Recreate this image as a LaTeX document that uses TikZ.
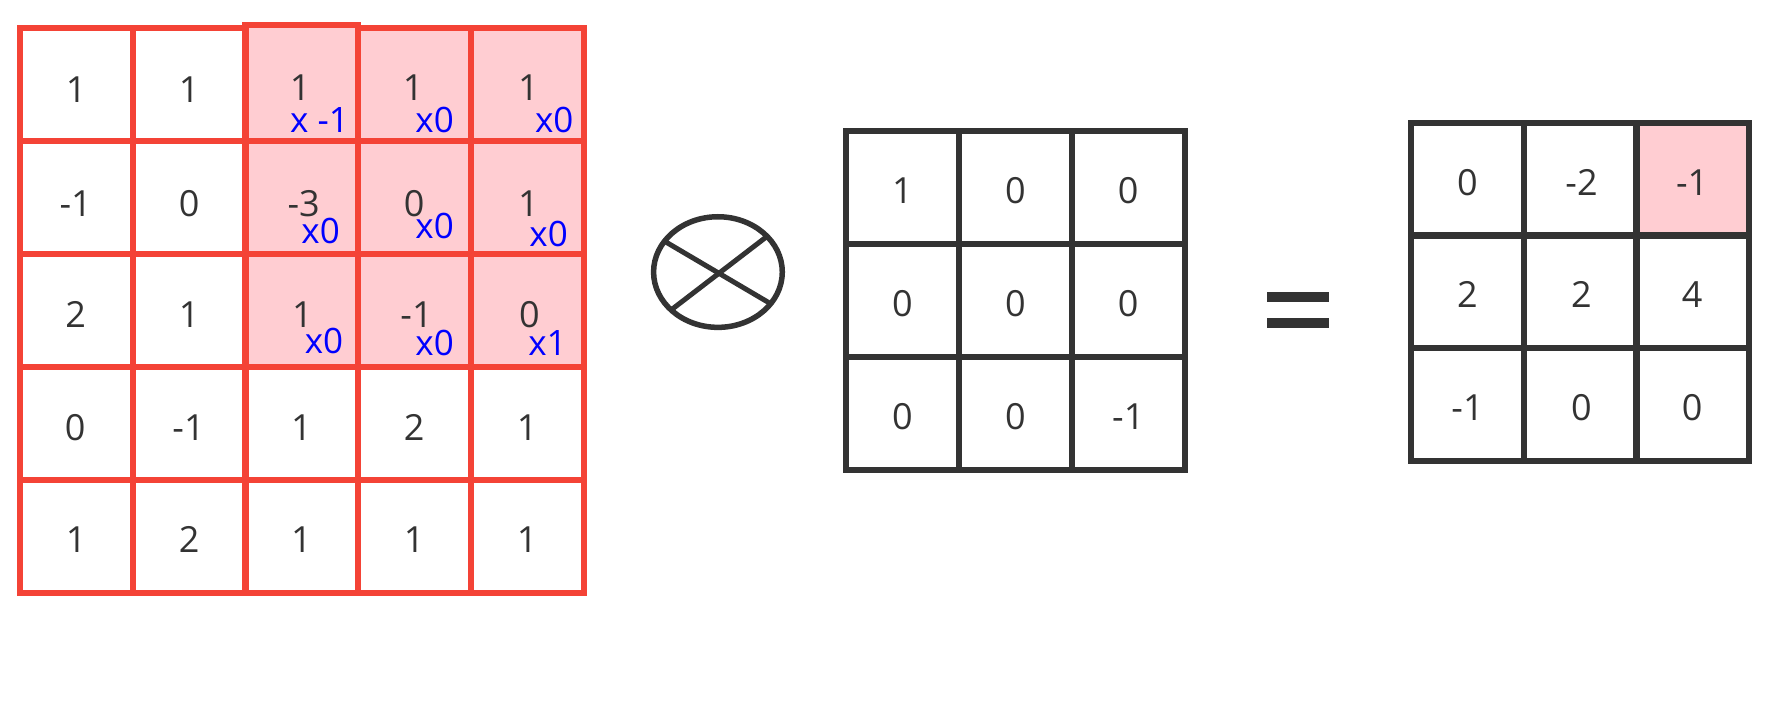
\documentclass[tikz,border=0pt]{standalone}
\usepackage{fontspec}
\setmainfont{Open Sans}
\usetikzlibrary{shapes.geometric}
\definecolor{gridred}{HTML}{F44336}
\definecolor{pinkfill}{HTML}{FFCDD2}
\definecolor{dark}{HTML}{333333}
\definecolor{mulblue}{HTML}{0000FF}
\pgfdeclarelayer{bg}
\pgfsetlayers{bg,main}
\tikzset{
  cell/.style={draw=gridred, line width=6pt, minimum width=112.9pt, minimum height=112.9pt, inner sep=0pt, outer sep=0pt},
  kcell/.style={cell, draw=dark},
  num/.style={text=dark, inner sep=0pt, font=\fontsize{36}{40}\selectfont},
  mul/.style={text=mulblue, inner sep=0pt, font=\fontsize{35}{40}\selectfont},
  opsym/.style={draw=dark, line width=5.5pt, ellipse, minimum width=128.7pt, minimum height=110.6pt, inner sep=0pt, outer sep=0pt},
  cross/.style={draw=dark, line width=5pt},
  bar/.style={fill=dark}
}
\begin{document}
\begin{tikzpicture}[x=1.1288pt, y=-1.1288pt]
\useasboundingbox (0,0) rectangle (1568,640);
% input 5x5 grid
\foreach \n/\x/\y/\t in {
  a11/67.5/75/1, a12/167.5/75/1, a14/367/75/1, a15/467/75/1,
  a21/67.5/175/-1, a22/167.5/175/0, a23/267/175/-3, a24/367/175/0, a25/467/175/1,
  a31/67.5/275/2, a32/167.5/275/1, a33/267/275/1, a34/367/275/-1, a35/467/275/0,
  a41/67.5/375/0, a42/167.5/375/-1, a43/267/375/1, a44/367/375/2, a45/467/375/1,
  a51/67.5/475/1, a52/167.5/475/2, a53/267/475/1, a54/367/475/1, a55/467/475/1}
{
  \node[cell] (\n) at (\x,\y) {};
}
\node[cell, minimum height=116.3pt] (a13) at (267,73.5) {};
\begin{pgfonlayer}{bg}
  \fill[pinkfill] (a13.north west) rectangle (a35.south east);
\end{pgfonlayer}
% numbers in input grid
\foreach \n/\x/\y/\t in {
  a11/67.5/79/1, a12/167.5/79/1, a13/266/78/1, a14/366/78/1, a15/468/78/1,
  a21/67/180/-1, a22/167.5/180/0, a23/269/180/-3, a24/367/180/0, a25/468/180/1,
  a31/67/279/2, a32/167.5/279/1, a33/268/279/1, a34/369/279/-1, a35/469/279/0,
  a41/66.5/379/0, a42/167/379/-1, a43/267/379/1, a44/367/379/2, a45/467/379/1,
  a51/67.5/478/1, a52/167.5/478/2, a53/267/478/1, a54/367/478/1, a55/467/478/1}
{
  \node[num] (\n t) at (\x,\y) {\t};
}
% kernel weights
\node[mul] (m13) at (283,106) {x -1};
\node[mul] (m14) at (385,106) {x0};
\node[mul] (m15) at (491,106) {x0};
\node[mul] (m23) at (284,205) {x0};
\node[mul] (m24) at (385,200) {x0};
\node[mul] (m25) at (486,207) {x0};
\node[mul] (m33) at (287,302) {x0};
\node[mul] (m34) at (385,304) {x0};
\node[mul] (m35) at (485,304) {x1};
% convolution operator
\node[opsym] (op) at (636,241) {};
\draw[cross] (op.150) -- (op.-31);
\draw[cross] (op.36) -- (op.219);
% kernel 3x3
\foreach \n/\x/\y/\t in {
  k11/799.5/166/1, k12/899.5/166/0, k13/999.5/166/0,
  k21/799.5/266/0, k22/899.5/266/0, k23/999.5/266/0,
  k31/799.5/366/0, k32/899.5/366/0, k33/999.5/366/-1}
{
  \node[kcell] (\n) at (\x,\y) {};
  \node[num] (\n t) at (\x,{\y+3}) {\t};
}
% equals sign
\fill[bar] (1122,258.5) rectangle (1177,267.5);
\fill[bar] (1122,282) rectangle (1177,291);
% output 3x3
\foreach \n/\x/\y/\t in {
  o11/1300/159/0, o12/1400/159/-2, o13/1499/159/-1,
  o21/1300/258/2, o22/1400/258/2, o23/1499/258/4,
  o31/1300/358/-1, o32/1400/358/0, o33/1499/358/0}
{
  \node[kcell] (\n) at (\x,\y) {};
}
\begin{pgfonlayer}{bg}
  \fill[pinkfill] (o13.north west) rectangle (o13.south east);
\end{pgfonlayer}
\foreach \n/\x/\y/\t in {
  o11/1300/162/0, o12/1401/162/-2, o13/1499/162/-1,
  o21/1300/261/2, o22/1401/261/2, o23/1499/261/4,
  o31/1300/361/-1, o32/1401/361/0, o33/1499/361/0}
{
  \node[num] (\n t) at (\x,\y) {\t};
}
\end{tikzpicture}
\end{document}
